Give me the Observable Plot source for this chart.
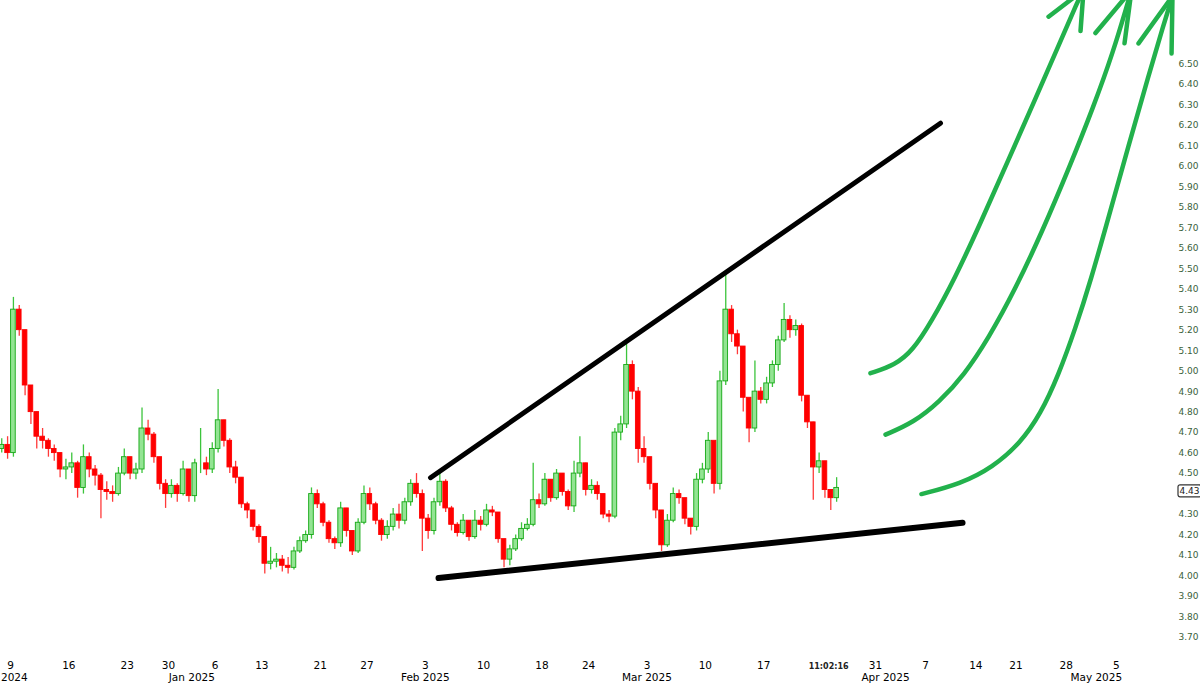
<!DOCTYPE html>
<html><head><meta charset="utf-8">
<script src="https://cdn.jsdelivr.net/npm/d3@7"></script>
<script src="https://cdn.jsdelivr.net/npm/@observablehq/plot@0.6"></script>
<style>
html,body{margin:0;padding:0;background:#fff;}
#chart{width:1200px;height:686px;overflow:hidden;}
</style></head><body><div id="chart"></div>
<script>
// ---- price data: two candles per trading session (AM / PM), Dec 6 2024 -> Mar 25 2025 (AM only)
const firstOpen = 4.62;
const closes = [
  4.64,4.60, 5.30,5.20, 4.93,4.80, 4.68,4.66, 4.62,4.60, 4.52,4.53,
  4.55,4.43, 4.58,4.52, 4.49,4.42, 4.41,4.40, 4.50,4.58,
  4.50,4.52, 4.72, 4.69,4.58, 4.45,4.40,
  4.44,4.40, 4.52,4.39, 4.55,4.55, 4.52,4.62,
  4.76,4.66, 4.53,4.48, 4.35,4.32, 4.24,4.19,
  4.06,4.07, 4.08,4.05, 4.04,4.12, 4.17,4.20, 4.40,4.35,
  4.26,4.18, 4.16,4.33, 4.22,4.12, 4.26,4.40,
  4.35,4.27, 4.20,4.24, 4.30,4.27, 4.36,4.45, 4.40,4.28,
  4.22,4.36, 4.46,4.33, 4.25,4.21, 4.27,4.19, 4.27,4.25,
  4.32,4.31, 4.18,4.08, 4.13,4.18, 4.23,4.25, 4.37,4.35,
  4.47,4.38, 4.50,4.41, 4.34,4.50, 4.55,4.42,
  4.44,4.40, 4.30,4.29, 4.70,4.74, 5.03,4.90, 4.62,4.58,
  4.45,4.32, 4.15,4.27, 4.40,4.38, 4.28,4.24, 4.47,4.52,
  4.66,4.45, 4.95,5.30, 5.18,5.12, 4.87,4.72, 4.90,4.86,
  4.94,5.03, 5.15,5.25, 5.20,5.22, 4.88,4.75, 4.53,4.56,
  4.42,4.38, 4.43
];
const highs = [
  4.67,4.68, 5.36,5.32, 5.20,4.93, 4.80,4.72, 4.67,4.64, 4.60,4.57,
  4.60,4.56, 4.64,4.60, 4.54,4.50, 4.46,4.44, 4.53,4.62,
  4.58,4.55, 4.82, 4.76,4.70, 4.58,4.47,
  4.47,4.45, 4.56,4.52, 4.57,4.72, 4.58,4.65,
  4.91,4.76, 4.67,4.56, 4.48,4.36, 4.32,4.25,
  4.19,4.14, 4.11,4.10, 4.09,4.14, 4.19,4.22, 4.43,4.42,
  4.36,4.27, 4.19,4.36, 4.33,4.22, 4.28,4.44,
  4.43,4.36, 4.28,4.27, 4.33,4.35, 4.38,4.47, 4.50,4.42,
  4.30,4.38, 4.50,4.47, 4.34,4.26, 4.30,4.27, 4.32,4.29,
  4.35,4.34, 4.31,4.18, 4.15,4.20, 4.26,4.28, 4.55,4.40,
  4.50,4.47, 4.52,4.50, 4.42,4.56, 4.68,4.55,
  4.47,4.46, 4.40,4.32, 4.72,4.78, 5.13,5.05, 4.92,4.68,
  4.58,4.45, 4.32,4.30, 4.43,4.42, 4.38,4.28, 4.50,4.55,
  4.70,4.62, 5.00,5.48, 5.32,5.20, 5.12,4.85, 5.05,4.92,
  4.97,5.05, 5.17,5.33, 5.27,5.25, 5.23,4.88, 4.75,4.60,
  4.56,4.42, 4.48
];
const lows = [
  4.60,4.57, 4.58,5.17, 4.88,4.74, 4.62,4.62, 4.58,4.56, 4.48,4.47,
  4.50,4.38, 4.40,4.48, 4.44,4.28, 4.37,4.36, 4.39,4.49,
  4.47,4.47, 4.50, 4.66,4.55, 4.42,4.33,
  4.38,4.36, 4.39,4.36, 4.36,4.50, 4.49,4.50,
  4.60,4.63, 4.50,4.45, 4.33,4.28, 4.22,4.16,
  4.01,4.03, 4.04,4.02, 4.01,4.03, 4.11,4.16, 4.18,4.33,
  4.24,4.16, 4.13,4.14, 4.19,4.10, 4.11,4.25,
  4.32,4.25, 4.17,4.18, 4.22,4.23, 4.25,4.34, 4.38,4.12,
  4.18,4.20, 4.34,4.31, 4.22,4.19, 4.20,4.17, 4.18,4.22,
  4.24,4.29, 4.16,4.04, 4.05,4.12, 4.17,4.22, 4.24,4.33,
  4.34,4.36, 4.37,4.39, 4.32,4.31, 4.48,4.39,
  4.40,4.37, 4.28,4.26, 4.28,4.66, 4.72,4.86, 4.55,4.55,
  4.42,4.28, 4.12,4.14, 4.26,4.35, 4.25,4.20, 4.22,4.45,
  4.50,4.40, 4.42,4.93, 5.14,5.08, 4.80,4.65, 4.70,4.84,
  4.84,4.92, 5.00,5.14, 5.16,5.17, 4.85,4.72, 4.37,4.50,
  4.38,4.32, 4.36
];

// ---- trading calendar
const holidays = ["2024-12-25","2025-01-01","2025-01-09","2025-01-20","2025-02-17","2025-04-18"];
const halfDays = ["2024-12-24"];
const firstDataDate = "2024-12-06";
const lastSessionDate = "2025-03-25";   // current session, morning only
const axisOriginDate = "2024-12-09";

// ---- axis labels
const xTickDates = ["2024-12-09","2024-12-16","2024-12-23","2024-12-30","2025-01-06","2025-01-13","2025-01-21","2025-01-27",
  "2025-02-03","2025-02-10","2025-02-18","2025-02-24","2025-03-03","2025-03-10","2025-03-17",
  "2025-03-31","2025-04-07","2025-04-14","2025-04-21","2025-04-28","2025-05-05"];
const xTickLabels = ["9","16","23","30","6","13","21","27","3","10","18","24","3","10","17","31","7","14","21","28","5"];
const monthDates = ["2025-01-02","2025-02-03","2025-03-03","2025-04-01","2025-05-01"];
const monthLabels = ["Jan 2025","Feb 2025","Mar 2025","Apr 2025","May 2025"];
const firstMonthLabel = "2024";
const yTicks = [3.70,3.80,3.90,4.00,4.10,4.20,4.30,4.50,4.60,4.70,4.80,4.90,5.00,5.10,5.20,5.30,5.40,
  5.50,5.60,5.70,5.80,5.90,6.00,6.10,6.20,6.30,6.40,6.50];
const lastPrice = 4.43;
const timeLabel = "11:02:16";

// ---- hand-drawn annotations, as [session position, price]
const upperTrend = [[35.99,4.48],[79.69,6.21]];
const lowerTrend = [[36.68,3.99],[81.58,4.26]];
const arrow1 = [[73.69,4.99],[75.80,5.03],[77.30,5.10],[78.90,5.24],[80.90,5.45],[83.10,5.72],[85.50,6.03],[87.90,6.34],[89.90,6.60],[91.40,6.80],[91.95,6.86]];
const arrow2 = [[74.98,4.69],[77.40,4.75],[79.60,4.85],[81.70,4.98],[83.80,5.16],[86.10,5.40],[88.40,5.68],[90.70,5.99],[92.80,6.29],[94.50,6.56],[95.70,6.79],[96.06,6.86]];
const arrow3 = [[78.06,4.40],[81.41,4.45],[84.15,4.53],[86.55,4.65],[88.26,4.79],[89.80,4.98],[91.26,5.21],[92.55,5.44],[94.09,5.75],[95.80,6.10],[97.51,6.44],[98.80,6.69],[99.57,6.83]];
const head1 = [[88.95,6.73],[91.95,6.86],[91.69,6.66]];
const head2 = [[92.97,6.65],[96.06,6.86],[95.46,6.60]];
const head3 = [[96.66,6.60],[99.57,6.83],[99.49,6.55]];

// build calendar positions (one unit per full session)
const fmt = d3.utcFormat("%Y-%m-%d");
const days = d3.utcDays(new Date(Date.UTC(2024,11,2)), new Date(Date.UTC(2025,4,17)))
  .filter(d => d.getUTCDay() !== 0 && d.getUTCDay() !== 6 && !holidays.includes(fmt(d)));
const posOf = new Map(), widthOf = new Map();
let acc = 0;
for (const d of days) {
  const k = fmt(d);
  const w = halfDays.includes(k) ? 0.54 : (k > lastSessionDate ? 0.86 : 1);
  posOf.set(k, acc); widthOf.set(k, w); acc += w;
}
const origin = posOf.get(axisOriginDate);
for (const [k, v] of posOf) posOf.set(k, v - origin);

const candles = [];
let prev = firstOpen;
for (const d of days) {
  const k = fmt(d);
  if (k < firstDataDate || k > lastSessionDate) continue;
  const p = posOf.get(k), w = widthOf.get(k);
  const parts = halfDays.includes(k) ? [[0, w]] : (k === lastSessionDate ? [[0, 0.5]] : [[0, 0.5], [0.5, 1]]);
  for (const [a, b] of parts) {
    const i = candles.length;
    if (i >= closes.length) break;
    candles.push({x1: p + a, x2: p + b, open: prev, close: closes[i], high: highs[i], low: lows[i]});
    prev = closes[i];
  }
}
const up = d => d.close >= d.open;
const lastCandle = candles[candles.length - 1];

const xTicks = xTickDates.map((d, i) => ({x: posOf.get(d), label: xTickLabels[i]}));
const months = monthDates.map((d, i) => ({x: posOf.get(d), label: monthLabels[i]}));
const arrows = [arrow1, arrow2, arrow3].flatMap((a, i) => a.map(p => ({x: p[0], y: p[1], z: i})));
const heads = [head1, head2, head3].flatMap((a, i) => a.map(p => ({x: p[0], y: p[1], z: i})));

const GREEN = "#22b14c";
const plot = Plot.plot({
  width: 1200, height: 686,
  marginLeft: 0, marginRight: 23, marginTop: 0, marginBottom: 31,
  style: {fontFamily: "DejaVu Sans, Verdana, sans-serif", background: "#fff"},
  x: {type: "linear", domain: [0, 100], range: [10, 1177], axis: null},
  y: {type: "linear", domain: [3.7, 6.5], range: [637, 63.3], axis: null},
  marks: [
    Plot.ruleX(candles, {x: d => (d.x1 + d.x2) / 2, y1: "low", y2: "high",
      stroke: d => up(d) ? "#3cc43c" : "#ff3a3a", strokeWidth: 1.3}),
    Plot.rect(candles, {x1: "x1", x2: "x2", y1: "open", y2: "close", insetLeft: 0.6, insetRight: 0.6,
      fill: d => up(d) ? "#93e493" : "#ff0000", stroke: d => up(d) ? "#14a814" : "#ff0000", strokeWidth: 0.9}),
    Plot.line(upperTrend, {x: d => d[0], y: d => d[1], stroke: "#000", strokeWidth: 5, strokeLinecap: "round"}),
    Plot.line(lowerTrend, {x: d => d[0], y: d => d[1], stroke: "#000", strokeWidth: 6, strokeLinecap: "round"}),
    Plot.line(arrows, {x: "x", y: "y", z: "z", stroke: GREEN, strokeWidth: 4.5, curve: "basis",
      strokeLinecap: "round", strokeLinejoin: "round"}),
    Plot.line(heads, {x: "x", y: "y", z: "z", stroke: GREEN, strokeWidth: 4.5,
      strokeLinecap: "round", strokeLinejoin: "round"}),
    Plot.text(yTicks, {y: d => d, frameAnchor: "right", textAnchor: "start", dx: 1,
      text: d => d3.format(".2f")(d), fontSize: 9, fill: "#3a5f3a"}),
    Plot.text([lastPrice], {y: d => d, frameAnchor: "right", textAnchor: "start", dx: 2, dy: 3,
      text: d => d.toFixed(2), fontSize: 9, fill: "#1a1a1a"}),
    Plot.text(xTicks, {x: "x", text: "label", frameAnchor: "bottom", dy: 13, fontSize: 10.5, fill: "#000"}),
    Plot.text(months, {x: "x", text: "label", frameAnchor: "bottom", dy: 25, fontSize: 10.5, fill: "#000"}),
    Plot.text([firstMonthLabel], {frameAnchor: "bottom-left", text: d => d,
      dy: 25, dx: 0.5, textAnchor: "start", fontSize: 10.5, fill: "#000"}),
    Plot.text([timeLabel], {x: () => (lastCandle.x1 + lastCandle.x2) / 2, text: d => d, frameAnchor: "bottom",
      dy: 13, dx: -8, fontSize: 8, fontWeight: "bold", fill: "#222"})
  ]
});
document.getElementById("chart").appendChild(plot);

// box around the last-price label
const lbl = Array.from(plot.querySelectorAll("text")).find(t => t.textContent === lastPrice.toFixed(2));
if (lbl) {
  const bb = lbl.getBBox();
  const r = document.createElementNS("http://www.w3.org/2000/svg", "rect");
  r.setAttribute("x", bb.x - 1.5); r.setAttribute("y", bb.y - 1);
  r.setAttribute("width", bb.width + 3); r.setAttribute("height", bb.height + 2);
  r.setAttribute("rx", 2); r.setAttribute("fill", "#fff"); r.setAttribute("stroke", "#333");
  r.setAttribute("stroke-width", 1.2);
  const tf = lbl.getAttribute("transform");
  if (tf) r.setAttribute("transform", tf);
  lbl.parentNode.insertBefore(r, lbl);
}
</script></body></html>
